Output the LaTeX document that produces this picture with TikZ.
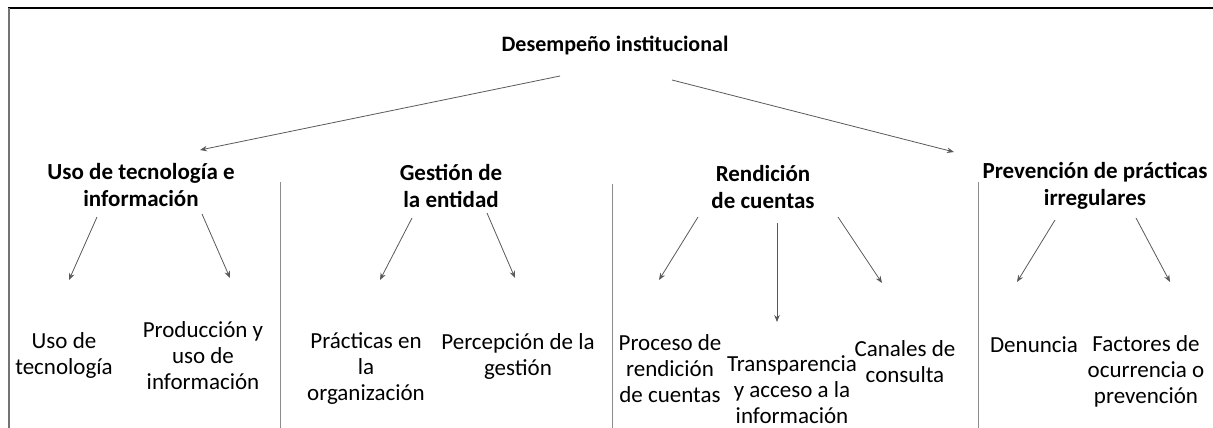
\documentclass[tikz,border=0pt]{standalone}
\usepackage{fontspec}
\setmainfont{Carlito}
\usetikzlibrary{arrows.meta}
\tikzset{
  head/.style={font=\fontsize{23}{27}\selectfont\bfseries, align=center, inner sep=0pt},
  title/.style={font=\fontsize{22}{27}\selectfont\bfseries, align=center, inner sep=0pt},
  leaf/.style={font=\fontsize{23}{26}\selectfont, align=center, inner sep=0pt},
  arr/.style={draw=black!65, line width=0.8pt, -{Stealth[length=7pt,width=5.5pt]}},
  sep/.style={draw=black!45, line width=1pt},
}
\begin{document}
\begin{tikzpicture}[x=1pt,y=-1pt]
\useasboundingbox (0,0) rectangle (1213,428);
% frame
\draw[black, line width=2pt] (8,8) -- (1213,8);
\draw[black!55, line width=2pt] (9,8) -- (9,428);
% separators
\coordinate (s1t) at (280,182); \coordinate (s1b) at (280,428);
\coordinate (s2t) at (612,184); \coordinate (s2b) at (612,428);
\coordinate (s3t) at (978,182); \coordinate (s3b) at (978,428);
\draw[sep] (s1t) -- (s1b);
\draw[sep] (s2t) -- (s2b);
\draw[sep] (s3t) -- (s3b);
% nodes
\node[title] (t0) at (615,45) {Desempeño institucional};
\node[head] (h1) at (141,185) {Uso de tecnología e\\información};
\node[head] (h2) at (451,186) {Gestión de\\la entidad};
\node[head] (h3) at (763,187) {Rendición\\de cuentas};
\node[head] (h4) at (1095,186) {Prevención de prácticas\\irregulares};
\node[leaf] (b1) at (64,355) {Uso de\\tecnología};
\node[leaf] (b2) at (203,356) {Producción y\\uso de\\información};
\node[leaf] (b3) at (366,369) {Prácticas en\\la\\organización};
\node[leaf] (b4) at (518,356) {Percepción de la\\gestión};
\node[leaf] (b5) at (670,369) {Proceso de\\rendición\\de cuentas};
\node[leaf] (b6) at (792,390) {Transparencia\\y acceso a la\\información};
\node[leaf] (b7) at (905,362) {Canales de\\consulta};
\node[leaf] (b8) at (1034,345) {Denuncia};
\node[leaf] (b9) at (1146,371) {Factores de\\ocurrencia o\\prevención};
% arrow end points
\coordinate (a0s) at (560,76);  \coordinate (a0e) at (200,150);
\coordinate (a1s) at (672,80);  \coordinate (a1e) at (954,152);
\coordinate (a2s) at (97,217);  \coordinate (a2e) at (69,280);
\coordinate (a3s) at (202,214); \coordinate (a3e) at (230,278);
\coordinate (a4s) at (412,218); \coordinate (a4e) at (380,280);
\coordinate (a5s) at (487,213); \coordinate (a5e) at (515,278);
\coordinate (a6s) at (698,217); \coordinate (a6e) at (659,280);
\coordinate (a7s) at (777,223); \coordinate (a7e) at (777,322);
\coordinate (a8s) at (838,217); \coordinate (a8e) at (882,283);
\coordinate (a9s) at (1055,220); \coordinate (a9e) at (1017,282);
\coordinate (a10s) at (1136,218); \coordinate (a10e) at (1170,282);
\draw[arr] (a0s) -- (a0e);
\draw[arr] (a1s) -- (a1e);
\draw[arr] (a2s) -- (a2e);
\draw[arr] (a3s) -- (a3e);
\draw[arr] (a4s) -- (a4e);
\draw[arr] (a5s) -- (a5e);
\draw[arr] (a6s) -- (a6e);
\draw[arr] (a7s) -- (a7e);
\draw[arr] (a8s) -- (a8e);
\draw[arr] (a9s) -- (a9e);
\draw[arr] (a10s) -- (a10e);
\end{tikzpicture}
\end{document}
